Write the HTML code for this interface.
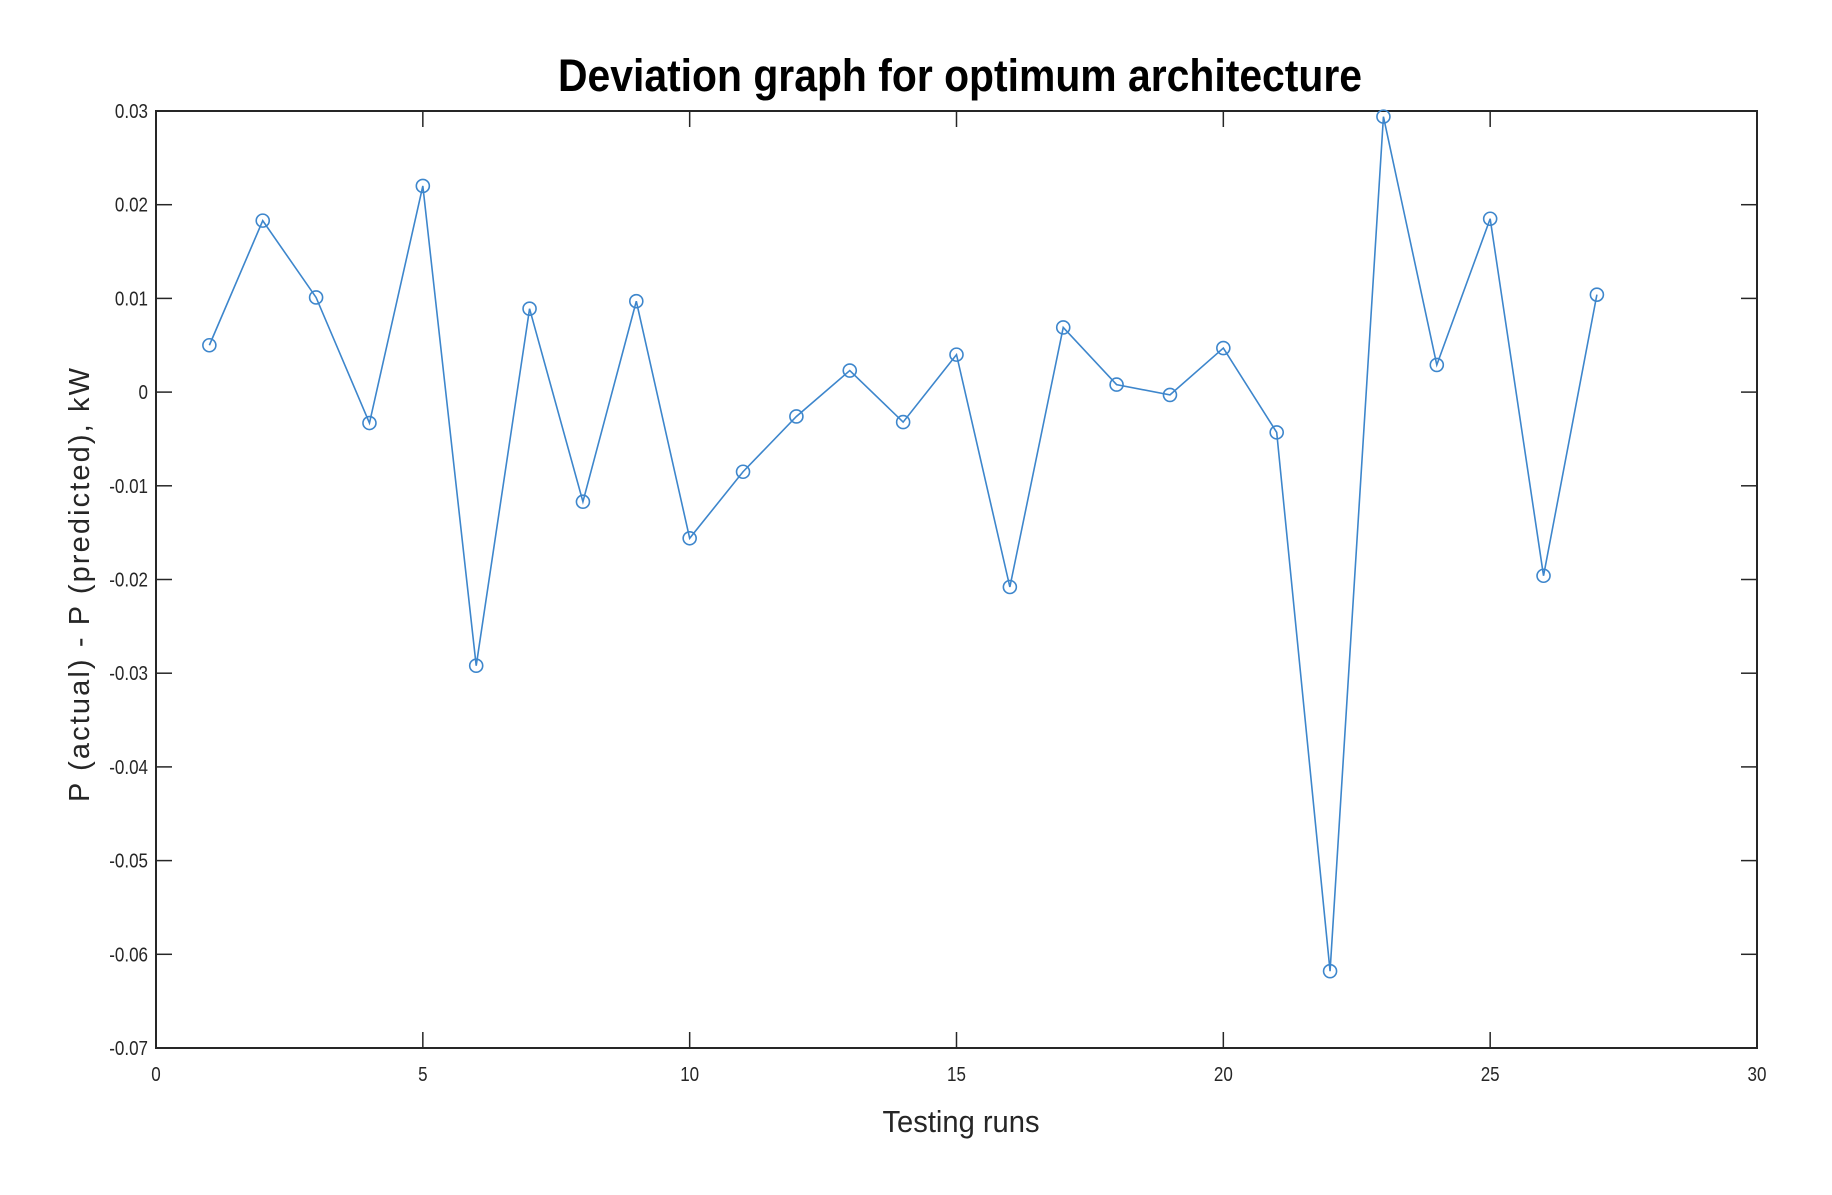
<!DOCTYPE html>
<html><head><meta charset="utf-8"><style>
body{margin:0;background:#fff;}
svg text{font-family:"Liberation Sans Narrow","Liberation Sans",sans-serif;fill:#262626;}
</style></head><body>
<svg id="chart" width="1832" height="1190" xmlns="http://www.w3.org/2000/svg">
<rect width="1832" height="1190" fill="#fff"/>
<text x="960" y="91" text-anchor="middle" font-size="45" font-weight="bold" textLength="804" lengthAdjust="spacingAndGlyphs" style="fill:#000">Deviation graph for optimum architecture</text>
<g id="axes"></g>
<g id="series"></g>
<text x="961" y="1132" text-anchor="middle" font-size="31" textLength="157" lengthAdjust="spacingAndGlyphs">Testing runs</text>
<text transform="translate(89,585) rotate(-90)" text-anchor="middle" font-size="29" textLength="434" lengthAdjust="spacing" style="font-family:'Liberation Sans',sans-serif">P (actual) - P (predicted), kW</text>
</svg>
<script>
const runs=[1,2,3,4,5,6,7,8,9,10,11,12,13,14,15,16,17,18,19,20,21,22,23,24,25,26,27];
const deviations=[0.005,0.0183,0.0101,-0.0033,0.022,-0.0292,0.0089,-0.0117,0.0097,-0.0156,-0.0085,-0.0026,0.0023,-0.0032,0.004,-0.0208,0.0069,0.0008,-0.0003,0.0047,-0.0043,-0.0618,0.0294,0.0029,0.0185,-0.0196,0.0104];
const xTicks=[0,5,10,15,20,25,30];
const yTicks=[0.03,0.02,0.01,0,-0.01,-0.02,-0.03,-0.04,-0.05,-0.06,-0.07];
const yTickLabels=["0.03","0.02","0.01","0","-0.01","-0.02","-0.03","-0.04","-0.05","-0.06","-0.07"];
const L=156,R=1757,T=111,B=1048,xMin=0,xMax=30,yMin=-0.07,yMax=0.03;
const sx=v=>L+(v-xMin)/(xMax-xMin)*(R-L);
const sy=v=>B-(v-yMin)/(yMax-yMin)*(B-T);
const NS="http://www.w3.org/2000/svg";
function mk(tag,attrs,parent){const e=document.createElementNS(NS,tag);for(const k in attrs)e.setAttribute(k,attrs[k]);parent.appendChild(e);return e;}
const axes=document.getElementById('axes'),series=document.getElementById('series');
const frame=mk('rect',{x:L,y:T,width:R-L,height:B-T,fill:'none',stroke:'#262626','stroke-width':2},axes);


xTicks.forEach(v=>{const x=sx(v);
mk('line',{x1:x,y1:B,x2:x,y2:B-16,stroke:'#262626','stroke-width':1.5},axes);
mk('line',{x1:x,y1:T,x2:x,y2:T+16,stroke:'#262626','stroke-width':1.5},axes);
const t=mk('text',{x:x,y:B+33,'text-anchor':'middle','font-size':20,transform:'translate('+x+',0) scale(0.85,1) translate('+(-x)+',0)'},axes);t.textContent=v;

});
yTicks.forEach((v,i)=>{const y=sy(v);
mk('line',{x1:L,y1:y,x2:L+16,y2:y,stroke:'#262626','stroke-width':1.5},axes);
mk('line',{x1:R,y1:y,x2:R-16,y2:y,stroke:'#262626','stroke-width':1.5},axes);
const ax=L-8;
const t=mk('text',{x:ax,y:y+7,'text-anchor':'end','font-size':20,transform:'translate('+ax+',0) scale(0.85,1) translate('+(-ax)+',0)'},axes);t.textContent=yTickLabels[i];

});
const pts=runs.map((r,i)=>sx(r)+','+sy(deviations[i])).join(' ');
const line=mk('polyline',{points:pts,fill:'none',stroke:'#3d86cc','stroke-width':1.6},series);


runs.forEach((r,i)=>{const c=mk('circle',{cx:sx(r),cy:sy(deviations[i]),r:6.5,fill:'none',stroke:'#3d86cc','stroke-width':1.6},series);

});
</script>
</body></html>
